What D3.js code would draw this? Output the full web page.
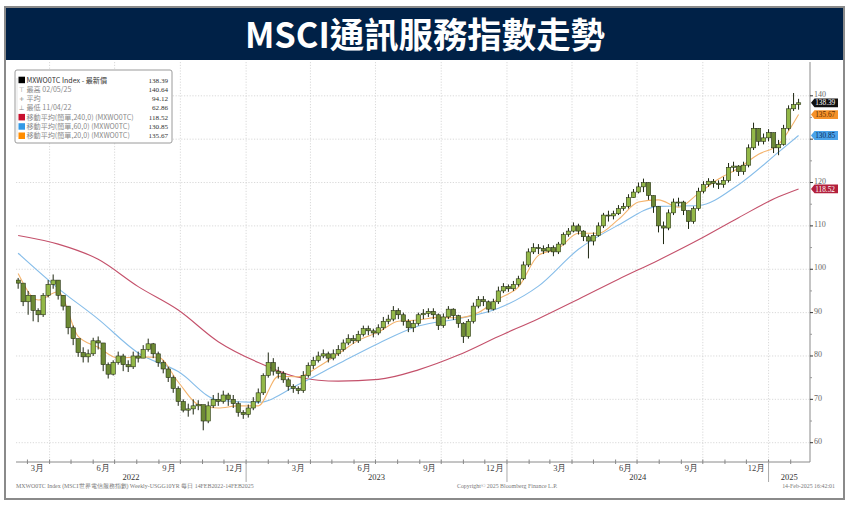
<!DOCTYPE html>
<html>
<head>
  <meta charset="utf-8">
  <script src="https://d3js.org/d3.v7.min.js"></script>
  <style>
    body { margin: 0; background: #fff; overflow: hidden; }
    text { user-select: none; }
  </style>
</head>
<body>
<script>
// weekly bars, week of 14 Feb 2022 .. week of 10 Feb 2025
const closes = [96.8,92.5,94.0,90.5,89.5,94.0,96.5,97.5,94.0,91.5,
  86.5,84.0,80.8,79.8,80.5,83.5,83.0,78.0,75.8,78.5,
  80.0,78.0,77.5,80.0,79.5,81.5,82.8,80.5,78.5,77.0,
  75.0,72.5,69.5,67.5,67.8,68.5,68.8,65.0,68.5,70.0,
  69.5,71.0,70.0,69.0,67.0,66.5,68.0,69.5,71.5,75.5,
  78.5,76.5,76.0,74.5,73.0,72.5,72.0,75.5,77.8,79.0,
  80.0,80.5,79.5,80.5,81.5,83.0,84.0,83.5,85.0,86.3,
  85.8,85.3,86.5,88.0,88.5,90.5,89.5,88.0,86.5,87.5,
  89.5,89.8,90.3,89.5,87.0,89.0,90.8,89.3,87.5,84.5,
  88.0,91.5,93.0,92.5,90.8,92.5,95.0,96.0,95.5,96.5,
  97.8,101.0,104.0,105.0,104.8,104.2,105.0,104.0,105.8,108.0,
  108.8,110.0,108.8,107.5,106.5,107.8,110.0,112.5,112.3,112.8,
  114.0,114.5,116.5,117.8,119.0,120.0,117.0,114.5,110.0,109.5,
  113.0,115.5,115.5,113.5,111.0,114.0,118.0,119.5,120.3,119.8,
  119.5,120.5,123.5,123.8,122.5,124.0,128.0,132.5,129.5,130.3,
  131.5,128.0,128.8,132.5,137.0,138.0,138.39];
const highs = [98.0,96.0,95.0,93.5,91.0,94.5,97.5,98.8,97.5,94.0,
  91.5,87.0,84.0,82.0,81.5,84.2,84.5,83.0,78.5,79.0,
  81.0,80.5,79.0,81.0,81.0,82.5,84.0,83.0,81.0,79.0,
  77.5,75.5,73.0,70.0,69.0,70.0,69.8,68.5,69.5,71.0,
  71.5,72.0,71.5,71.0,69.5,67.5,68.8,70.5,72.5,76.0,
  80.8,79.5,77.5,76.5,75.0,73.5,73.0,76.5,78.5,79.8,
  81.0,81.5,81.0,81.5,82.5,83.8,85.0,84.8,85.8,87.0,
  87.0,86.3,87.3,89.0,89.5,91.5,91.0,90.0,88.5,88.3,
  90.0,90.8,91.0,91.0,89.8,89.8,91.5,91.0,89.5,87.8,
  88.5,92.3,93.8,93.8,92.8,93.2,96.0,96.8,96.5,97.3,
  98.5,101.8,104.8,106.0,105.8,105.5,105.8,105.5,106.3,108.5,
  109.5,110.8,110.5,109.0,108.0,108.5,110.8,113.0,113.5,113.5,
  114.8,115.3,117.3,118.5,120.0,120.9,120.0,117.0,114.5,111.0,
  113.8,116.3,116.5,115.8,113.5,114.5,118.8,120.3,121.0,120.8,
  120.5,121.3,124.5,124.8,124.0,124.8,128.8,133.8,132.5,131.3,
  132.3,131.5,129.8,133.3,137.8,140.64,139.3];
const lows = [95.5,91.5,89.5,88.0,87.8,89.0,93.5,95.5,93.0,90.5,
  85.0,82.5,79.8,78.5,78.5,80.0,81.5,76.5,74.8,75.5,
  78.0,76.5,76.3,77.0,78.5,79.5,81.0,79.5,77.5,76.0,
  74.0,71.5,68.5,67.0,66.0,66.5,67.5,62.86,64.5,68.0,
  68.5,69.0,68.5,68.0,66.0,65.5,65.8,67.5,69.0,71.0,
  75.0,75.5,74.8,73.8,72.0,71.5,71.2,71.5,75.0,77.0,
  78.5,79.5,78.5,79.0,80.0,81.0,82.5,82.8,83.0,84.5,
  84.8,84.3,84.8,86.0,87.3,88.0,88.5,87.0,85.5,85.5,
  87.0,88.5,89.0,88.5,86.0,86.5,88.5,88.3,86.5,83.0,
  84.0,87.5,91.0,91.5,90.0,90.5,92.0,94.5,94.8,95.0,
  96.0,97.5,100.5,103.5,103.5,103.5,103.8,103.0,103.5,105.5,
  107.5,108.5,108.0,106.5,102.5,105.5,107.5,109.5,111.0,111.5,
  112.5,113.5,114.0,116.5,117.5,117.8,116.0,113.0,108.5,105.8,
  109.0,112.5,114.5,112.5,109.3,110.5,113.5,117.5,119.0,118.8,
  118.5,118.8,120.0,122.5,121.5,121.8,123.5,127.5,128.5,128.8,
  129.5,126.8,126.3,128.5,132.0,136.5,136.8];
const firstOpen = 97.5;

// moving averages, read at these week numbers
const maWeeksSlow = [0,8,16,24,32,40,48,56,64,72,80,88,96,104,112,120,128,136,144,152,156];
const ma240 = [107.8,105.8,102.3,96.0,90.6,83.3,78.5,75.1,74.2,74.6,76.8,80.2,84.5,88.6,93.1,97.7,102.1,106.8,111.9,116.7,118.52];
const ma60 = [103.7,95.6,88.5,80.7,76.4,69.8,69.3,73.4,78.2,82.9,86.9,88.6,91.0,96.1,104.6,110.2,114.5,114.7,119.5,127.0,130.85];
const maWeeksFast = d3.range(0, 157, 4);
const ma20 = [99.0,92.9,94.8,84.5,82.0,79.5,79.8,79.7,74.0,68.8,
  68.0,68.5,68.5,75.3,75.2,77.5,80.5,83.6,85.5,88.0,
  88.3,88.9,88.8,90.0,93.2,95.9,103.2,104.8,108.3,108.3,
  111.5,115.5,116.0,114.3,117.5,120.8,123.3,126.5,128.8,135.67];

const yTicks = [60,70,80,90,100,110,120,130,140];
const quarterMonths = ["3月","6月","9月","12月"];
const years = ["2022","2023","2024","2025"];

const legendRows = [
  {mark: "box", color: "#000", name: "MXWO0TC Index - 最新價", value: "138.39"},
  {mark: "⊤", name: "最高 02/05/25", value: "140.64"},
  {mark: "+", name: "平均", value: "94.12"},
  {mark: "⊥", name: "最低 11/04/22", value: "62.86"},
  {mark: "box", color: "#c8102e", name: "移動平均(簡單,240,0) (MXWO0TC)", value: "118.52"},
  {mark: "box", color: "#3399e6", name: "移動平均(簡單,60,0) (MXWO0TC)", value: "130.85"},
  {mark: "box", color: "#ff8c00", name: "移動平均(簡單,20,0) (MXWO0TC)", value: "135.67"}
];

const tags = [
  {value: 138.39, fill: "#111", text: "#fff"},
  {value: 135.67, fill: "#f5922a", text: "#5a2a00"},
  {value: 130.85, fill: "#4aa3ea", text: "#0a2a55"},
  {value: 118.52, fill: "#b3203c", text: "#fff"}
];

const width = 851, height = 510;
const plot = {left: 16, right: 810, top: 62, bottom: 462};
const serif = "'Liberation Serif', 'DejaVu Serif', serif";
const cjk = "'Noto Sans CJK TC', 'Noto Sans', sans-serif";

const svg = d3.select("body").append("svg")
  .attr("width", width)
  .attr("height", height);

const x = d3.scaleTime()
  .domain([new Date(2022, 1, 13), new Date(2025, 1, 28)])
  .range([plot.left, plot.right]);
const y = d3.scaleLinear()
  .domain([60, 140])
  .range([442.7, 95.8]);

const weekDate = i => d3.timeDay.offset(new Date(2022, 1, 16), 7 * i);

// title band
svg.append("rect")
  .attr("x", 5).attr("y", 7).attr("width", 839).attr("height", 53)
  .attr("fill", "#002147");
svg.append("text")
  .attr("x", 425).attr("y", 47.5)
  .attr("text-anchor", "middle")
  .attr("font-family", cjk)
  .attr("font-weight", "bold")
  .attr("font-size", 35)
  .attr("fill", "#fff")
  .attr("textLength", 360)
  .attr("lengthAdjust", "spacingAndGlyphs")
  .text("MSCI通訊服務指數走勢");

// grid
const grid = svg.append("g")
  .attr("stroke", "#cfcfcf")
  .attr("stroke-width", 0.8)
  .attr("stroke-dasharray", "1.2,1.6");
grid.selectAll("line.h")
  .data(yTicks)
  .enter().append("line")
  .attr("x1", plot.left).attr("x2", plot.right)
  .attr("y1", d => y(d)).attr("y2", d => y(d));
const quarterStarts = d3.timeMonth.range(new Date(2022, 3, 1), new Date(2025, 0, 2), 3);
grid.selectAll("line.v")
  .data(quarterStarts)
  .enter().append("line")
  .attr("x1", d => x(d)).attr("x2", d => x(d))
  .attr("y1", plot.top).attr("y2", plot.bottom);

svg.append("clipPath").attr("id", "clip")
  .append("rect")
  .attr("x", plot.left).attr("y", plot.top)
  .attr("width", plot.right - plot.left).attr("height", plot.bottom - plot.top);

const chart = svg.append("g").attr("clip-path", "url(#clip)");

// moving averages
function maLine(weeks, values, color) {
  const line = d3.line()
    .x((d, k) => x(weekDate(weeks[k])))
    .y(d => y(d))
    .curve(d3.curveMonotoneX);
  chart.append("path")
    .attr("d", line(values))
    .attr("fill", "none")
    .attr("stroke", color)
    .attr("stroke-width", 1.1);
}
maLine(maWeeksSlow, ma240, "#c4516b");
maLine(maWeeksSlow, ma60, "#86bde9");
maLine(maWeeksFast, ma20, "#f4b46e");

// candles
const bars = closes.map((c, i) => ({
  date: weekDate(i),
  open: i === 0 ? firstOpen : closes[i - 1],
  close: c, high: highs[i], low: lows[i]
}));
chart.append("g")
  .selectAll("line")
  .data(bars)
  .enter().append("line")
  .attr("x1", d => x(d.date)).attr("x2", d => x(d.date))
  .attr("y1", d => y(d.high)).attr("y2", d => y(d.low))
  .attr("stroke", "#1f2812")
  .attr("stroke-width", 1);
chart.append("g")
  .selectAll("rect")
  .data(bars)
  .enter().append("rect")
  .attr("x", d => x(d.date) - 2.2)
  .attr("width", 4.4)
  .attr("y", d => y(Math.max(d.open, d.close)))
  .attr("height", d => Math.max(1, Math.abs(y(d.open) - y(d.close))))
  .attr("fill", d => d.close >= d.open ? "#93b848" : "#6d8a34")
  .attr("stroke", "#1f2812")
  .attr("stroke-width", 0.55);

// right axis
const axisR = svg.append("g");
axisR.append("line")
  .attr("x1", plot.right).attr("x2", plot.right)
  .attr("y1", plot.top).attr("y2", plot.bottom)
  .attr("stroke", "#8a8a8a");
axisR.selectAll("line.minor")
  .data(d3.range(60, 145, 5))
  .enter().append("line")
  .attr("x1", plot.right).attr("x2", d => plot.right + (d % 10 === 0 ? 3 : 2))
  .attr("y1", d => y(d)).attr("y2", d => y(d))
  .attr("stroke", d => d % 10 === 0 ? "#333" : "#999");
// tick labels that sit under a value tag are hidden, as in the source
axisR.selectAll("text")
  .data(yTicks.filter(t => tags.every(g => Math.abs(y(t) - y(g.value)) > 5)))
  .enter().append("text")
  .attr("x", plot.right + 4).attr("y", d => y(d) + 1.2)
  .attr("font-family", serif)
  .attr("font-size", 8)
  .attr("fill", "#666")
  .text(d => d);

// value tags
const tagG = svg.append("g").selectAll("g")
  .data(tags)
  .enter().append("g")
  .attr("transform", d => `translate(${plot.right + 1},${y(d.value)})`);
tagG.append("path")
  .attr("d", "M0,0L3.5,-4.4L27,-4.4L27,4.4L3.5,4.4Z")
  .attr("fill", d => d.fill);
tagG.append("text")
  .attr("x", 4.2).attr("y", 2.6)
  .attr("font-family", serif)
  .attr("font-size", 7.3)
  .attr("fill", d => d.text)
  .text(d => d.value.toFixed(2));

// bottom axis
const axisB = svg.append("g");
axisB.append("line")
  .attr("x1", plot.left).attr("x2", plot.right)
  .attr("y1", plot.bottom).attr("y2", plot.bottom)
  .attr("stroke", "#8a8a8a");
axisB.selectAll("line.m")
  .data(d3.timeMonth.range(new Date(2022, 2, 1), new Date(2025, 2, 1)))
  .enter().append("line")
  .attr("x1", d => x(d)).attr("x2", d => x(d))
  .attr("y1", plot.bottom - 2.5).attr("y2", plot.bottom + 2)
  .attr("stroke", "#888");
axisB.selectAll("line.y")
  .data(d3.timeYear.range(new Date(2022, 1, 1), new Date(2025, 1, 1)))
  .enter().append("line")
  .attr("x1", d => x(d)).attr("x2", d => x(d))
  .attr("y1", plot.bottom).attr("y2", plot.bottom + 20)
  .attr("stroke", "#aaa");
const labelMonths = d3.timeMonth.range(new Date(2022, 2, 1), new Date(2025, 0, 1), 3);
axisB.selectAll("text.m")
  .data(labelMonths)
  .enter().append("text")
  .attr("x", d => x(d3.timeDay.offset(d, 14)))
  .attr("y", plot.bottom + 8.5)
  .attr("text-anchor", "middle")
  .attr("font-family", serif)
  .attr("font-size", 8.5)
  .attr("fill", "#444")
  .text(d => quarterMonths[Math.floor(d.getMonth() / 3)]);
axisB.selectAll("text.y")
  .data(years)
  .enter().append("text")
  .attr("x", d => {
    const a = d3.max([x.domain()[0], new Date(+d, 0, 1)]);
    const b = d3.min([x.domain()[1], new Date(+d + 1, 0, 1)]);
    return (x(a) + x(b)) / 2;
  })
  .attr("y", plot.bottom + 17.5)
  .attr("text-anchor", "middle")
  .attr("font-family", serif)
  .attr("font-size", 8.5)
  .attr("fill", "#333")
  .text(d => d);

// footer
const foot = svg.append("g")
  .attr("font-family", serif)
  .attr("font-size", 5.9)
  .attr("fill", "#777");
foot.append("text").attr("x", 16).attr("y", 488)
  .text("MXWO0TC Index (MSCI世界電信服務指數) Weekly-USGG10YR  每日 14FEB2022-14FEB2025");
foot.append("text").attr("x", 457).attr("y", 488)
  .text("Copyright© 2025 Bloomberg Finance L.P.");
foot.append("text").attr("x", 835).attr("y", 488).attr("text-anchor", "end")
  .text("14-Feb-2025 16:42:01");

// legend
const leg = svg.append("g");
leg.append("rect")
  .attr("x", 15).attr("y", 70).attr("width", 157).attr("height", 73)
  .attr("rx", 2)
  .attr("fill", "#fff")
  .attr("stroke", "#9a9a9a");
leg.append("line")
  .attr("x1", 17).attr("x2", 17).attr("y1", 78).attr("y2", 137)
  .attr("stroke", "#d0d0d0").attr("stroke-width", 0.6);
const rowsG = leg.selectAll("g")
  .data(legendRows)
  .enter().append("g")
  .attr("transform", (d, i) => `translate(0,${80 + i * 9.3})`);
rowsG.filter(d => d.mark === "box").append("rect")
  .attr("x", 18.5).attr("y", -3.3).attr("width", 6.5).attr("height", 6.5)
  .attr("fill", d => d.color);
rowsG.filter(d => d.mark !== "box").append("text")
  .attr("x", 21.7).attr("y", 2.4)
  .attr("text-anchor", "middle")
  .attr("font-family", "'DejaVu Sans', sans-serif")
  .attr("font-size", 6.5)
  .attr("fill", "#888")
  .text(d => d.mark);
rowsG.append("text")
  .attr("x", 26.5).attr("y", 2.5)
  .attr("font-family", cjk)
  .attr("font-size", 7.1)
  .attr("fill", (d, i) => i === 0 ? "#333" : "#8a8a8a")
  .text(d => d.name);
rowsG.append("text")
  .attr("x", 168).attr("y", 2.5)
  .attr("text-anchor", "end")
  .attr("font-family", serif)
  .attr("font-size", 7.1)
  .attr("fill", "#333")
  .text(d => d.value);

// frame
svg.append("rect")
  .attr("x", 5).attr("y", 7).attr("width", 839).attr("height", 492)
  .attr("fill", "none")
  .attr("stroke", "#8a8a8a")
  .attr("stroke-width", 2);
</script>
</body>
</html>
